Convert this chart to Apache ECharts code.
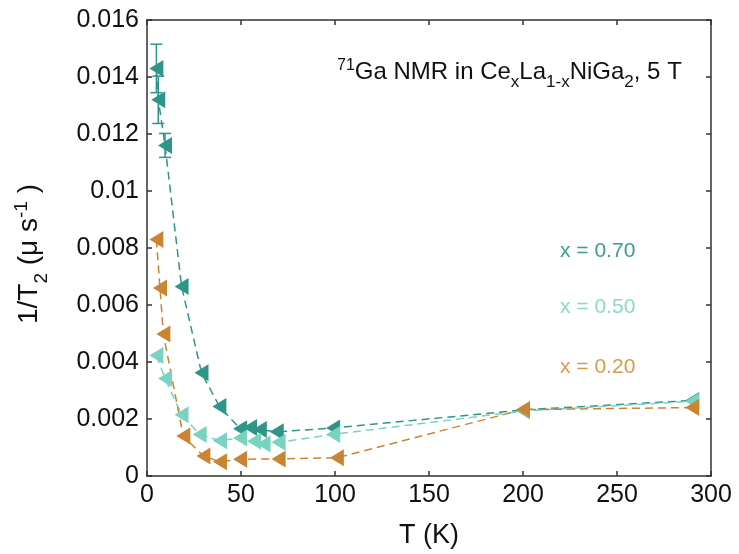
<!DOCTYPE html>
<html>
<head>
<meta charset="utf-8">
<script src="https://cdn.jsdelivr.net/npm/echarts@6/dist/echarts.min.js"></script>
<style>
html,body{margin:0;padding:0;background:#fff;}
#chart{width:739px;height:554px;}
</style>
</head>
<body>
<div id="chart"></div>
<script>
// ---- data ----
var seriesNames = ['x = 0.70', 'x = 0.50', 'x = 0.20'];
var T70 = [5, 6, 9.6, 18.4, 29, 38.5, 49.5, 54.8, 60, 69, 99, 200, 290];
var Y70 = [0.0143, 0.0132, 0.0116, 0.00665, 0.00362, 0.00244, 0.00166, 0.0017, 0.00163, 0.00155, 0.00168, 0.00232, 0.00265];
var T50 = [5, 9.6, 18.4, 28, 38.8, 49.5, 57, 62, 70, 99, 200, 290];
var Y50 = [0.00423, 0.00342, 0.00215, 0.00146, 0.00124, 0.00133, 0.00122, 0.00112, 0.00118, 0.00146, 0.00228, 0.00262];
var T20 = [5, 6.9, 8.7, 19.3, 30, 38.8, 49.5, 70, 101, 200, 290];
var Y20 = [0.0083, 0.0066, 0.00498, 0.0014, 0.0007, 0.0005, 0.00059, 0.0006, 0.00064, 0.00233, 0.0024];
// error bars (x = 0.70, first three points)
var errT = [5, 6, 9.6];
var errY = [0.0143, 0.0132, 0.0116];
var errD = [0.00085, 0.00083, 0.00042];
// axis ticks
var xTicks = [0, 50, 100, 150, 200, 250, 300];
var yTicks = ['0', '0.002', '0.004', '0.006', '0.008', '0.01', '0.012', '0.014', '0.016'];

var colors = ['#2e9588', '#7ad2c0', '#c98531'];
var textColors = ['#3b9d90', '#8dd8c8', '#d49c50'];

function pairs(xs, ys) { return xs.map(function (x, i) { return [x, ys[i]]; }); }
var errData = errT.map(function (t, i) { return [t, errY[i] - errD[i], errY[i] + errD[i]]; });

var chart = echarts.init(document.getElementById('chart'), null, {renderer: 'canvas'});
var font = '"Liberation Sans", Arial, Helvetica, sans-serif';
var axisLineStyle = {color: '#333', width: 1.5};

function mkSeries(name, data, color) {
  return {
    type: 'line', name: name, data: data,
    xAxisIndex: 0, yAxisIndex: 0,
    symbol: 'triangle', symbolRotate: 90, symbolSize: [17, 14],
    itemStyle: {color: color},
    lineStyle: {color: color, width: 1.5, type: [8, 5]},
    animation: false, z: 3
  };
}

var option = {
  animation: false,
  grid: {left: 147, right: 28, top: 20, bottom: 72},
  xAxis: [{
    type: 'value', min: 0, max: 300, interval: 50, position: 'bottom',
    axisLine: {show: true, onZero: false, lineStyle: axisLineStyle},
    axisTick: {show: true, inside: true, length: 5, lineStyle: axisLineStyle},
    axisLabel: {fontSize: 25, color: '#111', fontFamily: font, margin: 7,
      formatter: function (v) { return String(xTicks[Math.round(v / 50)]); }},
    splitLine: {show: false},
    name: 'T (K)', nameLocation: 'middle', nameGap: 46,
    nameTextStyle: {fontSize: 27, color: '#111', fontFamily: font}
  }, {
    type: 'value', min: 0, max: 300, interval: 50, position: 'top',
    axisLine: {show: true, onZero: false, lineStyle: axisLineStyle},
    axisTick: {show: true, inside: true, length: 5, lineStyle: axisLineStyle},
    axisLabel: {show: false}, splitLine: {show: false}
  }],
  yAxis: [{
    type: 'value', min: 0, max: 0.016, interval: 0.002, position: 'left',
    axisLine: {show: true, onZero: false, lineStyle: axisLineStyle},
    axisTick: {show: true, inside: true, length: 5, lineStyle: axisLineStyle},
    axisLabel: {fontSize: 25, color: '#111', fontFamily: font, margin: 8,
      formatter: function (v) { return yTicks[Math.round(v / 0.002)]; }},
    splitLine: {show: false}
  }, {
    type: 'value', min: 0, max: 0.016, interval: 0.002, position: 'right',
    axisLine: {show: true, onZero: false, lineStyle: axisLineStyle},
    axisTick: {show: true, inside: true, length: 5, lineStyle: axisLineStyle},
    axisLabel: {show: false}, splitLine: {show: false}
  }],
  series: [
    {
      type: 'custom', name: 'err', data: errData, xAxisIndex: 0, yAxisIndex: 0, z: 2,
      renderItem: function (params, api) {
        var x = api.value(0), lo = api.value(1), hi = api.value(2);
        var a = api.coord([x, hi]), b = api.coord([x, lo]);
        var w = 6;
        var st = {stroke: colors[0], lineWidth: 1.5};
        return {type: 'group', children: [
          {type: 'line', shape: {x1: a[0], y1: a[1], x2: b[0], y2: b[1]}, style: st},
          {type: 'line', shape: {x1: a[0] - w, y1: a[1], x2: a[0] + w, y2: a[1]}, style: st},
          {type: 'line', shape: {x1: b[0] - w, y1: b[1], x2: b[0] + w, y2: b[1]}, style: st}
        ]};
      }
    },
    mkSeries(seriesNames[0], pairs(T70, Y70), colors[0]),
    mkSeries(seriesNames[1], pairs(T50, Y50), colors[1]),
    mkSeries(seriesNames[2], pairs(T20, Y20), colors[2])
  ],
  graphic: [
    {
      type: 'text', left: 337, top: 58, z: 10,
      style: {
        text: '{sup|71}{n|Ga NMR in Ce}{sub|x}{n|La}{sub|1-x}{n|NiGa}{sub|2}{n|, 5 T}',
        fontFamily: font,
        rich: {
          n: {fontSize: 24, fontFamily: font, fill: '#111', color: '#111', verticalAlign: 'bottom', lineHeight: 26, padding: [0, 0, 7, 0]},
          sup: {fontSize: 16, fontFamily: font, fill: '#111', color: '#111', verticalAlign: 'bottom', lineHeight: 18, padding: [0, 0, 17, 0]},
          sub: {fontSize: 17, fontFamily: font, fill: '#111', color: '#111', verticalAlign: 'bottom', lineHeight: 20}
        }
      }
    },
    {
      type: 'text', x: 560, y: 251, z: 10,
      style: {text: seriesNames[0], fontSize: 21, fontFamily: font, fill: textColors[0], verticalAlign: 'middle'}
    },
    {
      type: 'text', x: 560, y: 307, z: 10,
      style: {text: seriesNames[1], fontSize: 21, fontFamily: font, fill: textColors[1], verticalAlign: 'middle'}
    },
    {
      type: 'text', x: 560, y: 367, z: 10,
      style: {text: seriesNames[2], fontSize: 21, fontFamily: font, fill: textColors[2], verticalAlign: 'middle'}
    },
    {
      type: 'text', x: 36, y: 254, rotation: Math.PI / 2, z: 10,
      style: {
        text: '{n|1/T}{sub|2}{n| (μ s}{sup|-1}{n| )}',
        align: 'center', verticalAlign: 'middle',
        rich: {
          n: {fontSize: 28, fontFamily: font, fill: '#111', color: '#111', verticalAlign: 'bottom', lineHeight: 30, padding: [0, 0, 8, 0]},
          sup: {fontSize: 19, fontFamily: font, fill: '#111', color: '#111', verticalAlign: 'bottom', lineHeight: 22, padding: [0, 0, 20, 0]},
          sub: {fontSize: 19, fontFamily: font, fill: '#111', color: '#111', verticalAlign: 'bottom', lineHeight: 22}
        }
      }
    }
  ]
};
chart.setOption(option);
</script>
</body>
</html>
